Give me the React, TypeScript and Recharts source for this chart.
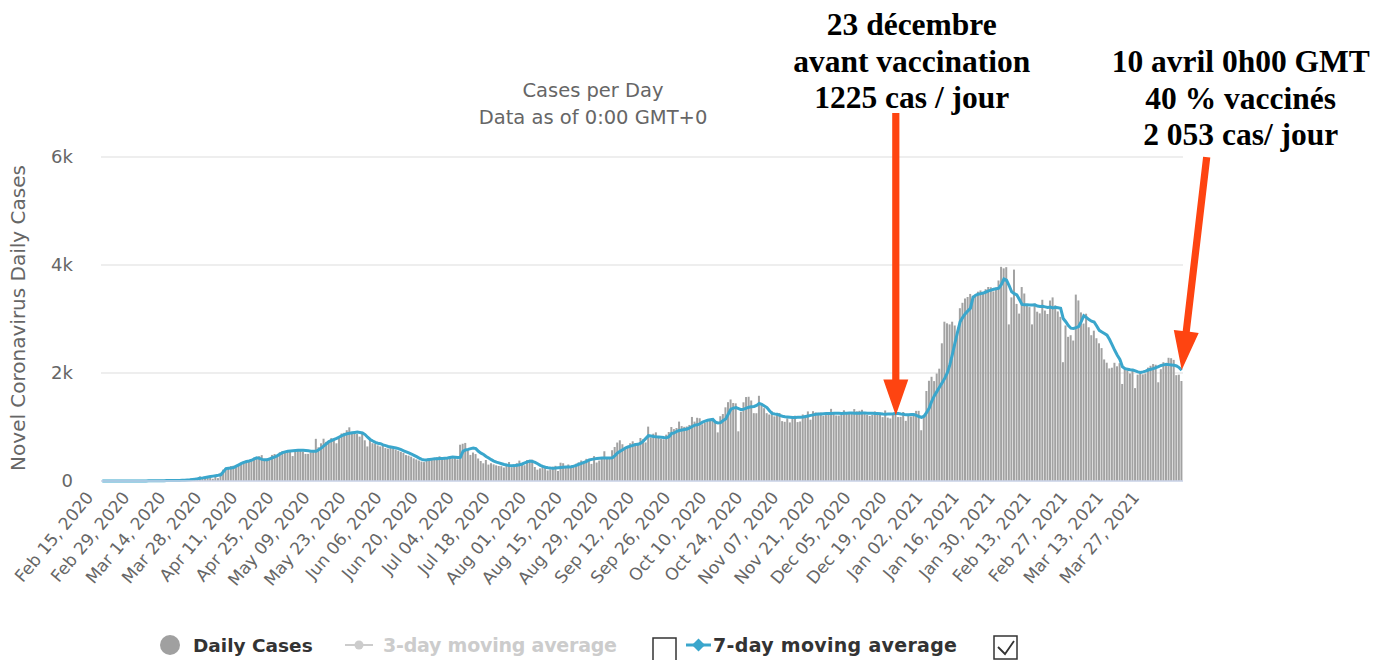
import React from 'react';
import { ComposedChart, Bar, Line, XAxis, YAxis, CartesianGrid, ReferenceDot } from 'recharts';

// Daily new cases, one row per week, starting Saturday Feb 15, 2020
const DAILY_CASES: number[] = [
  0, 0, 0, 0, 0, 0, 0,
  0, 2, 0, 0, 0, 0, 6,
  0, 2, 0, 6, 6, 0, 0,
  15, 0, 0, 15, 14, 11, 6,
  0, 13, 0, 15, 15, 27, 0,
  40, 45, 50, 85, 53, 70, 72,
  63, 41, 102, 53, 150, 210, 240,
  241, 277, 283, 294, 300, 331, 370,
  376, 387, 398, 432, 412, 460, 479,
  398, 412, 430, 483, 500, 480, 532,
  552, 525, 557, 541, 462, 563, 557,
  561, 546, 502, 502, 532, 557, 781,
  624, 698, 783, 725, 747, 794, 781,
  698, 812, 880, 892, 941, 994, 906,
  903, 870, 822, 908, 754, 640, 779,
  700, 690, 660, 640, 680, 610, 600,
  640, 600, 580, 560, 540, 520, 480,
  470, 450, 420, 400, 380, 360, 350,
  375, 387, 400, 422, 440, 458, 402,
  428, 410, 462, 420, 440, 400, 672,
  690, 705, 577, 483, 527, 499, 417,
  370, 328, 389, 304, 329, 308, 290,
  278, 275, 250, 295, 351, 256, 264,
  328, 378, 312, 292, 389, 367, 395,
  259, 210, 234, 293, 274, 195, 216,
  263, 281, 185, 339, 329, 275, 306,
  262, 290, 320, 345, 380, 363, 410,
  402, 317, 461, 342, 378, 424, 551,
  432, 425, 570, 630, 712, 754, 681,
  607, 644, 699, 735, 700, 702, 797,
  775, 714, 1007, 806, 876, 901, 820,
  782, 773, 858, 907, 1000, 961, 982,
  1100, 1017, 1003, 1010, 1038, 1186, 1100,
  1171, 1162, 1051, 1078, 1101, 1139, 1140,
  1096, 900, 1200, 1240, 1364, 1460, 1510,
  1444, 1438, 920, 1281, 1457, 1555, 1560,
  1491, 1256, 1255, 1578, 1404, 1348, 1256,
  1231, 1292, 1197, 1226, 1259, 1109, 1096,
  1161, 1085, 1201, 1209, 1091, 1102, 1232,
  1190, 1289, 1136, 1293, 1269, 1262, 1267,
  1209, 1221, 1270, 1336, 1261, 1214, 1212,
  1235, 1310, 1262, 1258, 1275, 1332, 1289,
  1300, 1319, 1255, 1226, 1206, 1226, 1289,
  1257, 1263, 1183, 1307, 1174, 1158, 1230,
  1241, 1184, 1187, 1278, 1114, 1216, 1196,
  1251, 1299, 1300, 940, 1223, 1667, 1856,
  1930, 1850, 1990, 2080, 2550, 2950, 2920,
  2900, 2950, 2880, 2760, 3200, 3300, 3380,
  3407, 3464, 3432, 3434, 3506, 3529, 3491,
  3552, 3593, 3588, 3511, 3580, 3713, 3966,
  3938, 3960, 2900, 3400, 3915, 3280, 3100,
  3592, 3471, 3270, 3220, 2900, 3284, 3135,
  3104, 3356, 3157, 3093, 3342, 3400, 3251,
  3140, 3040, 2200, 2880, 2670, 2700, 2601,
  3452, 3344, 3122, 2916, 3098, 2847, 2700,
  2784, 2644, 2550, 2461, 2251, 2191, 2085,
  2098, 2189, 2124, 2182, 1797, 2099, 2048,
  1992, 2073, 1720, 1969, 2000, 1975, 1991,
  2100, 2134, 2166, 2153, 1828, 2071, 2200,
  2185, 2282, 2274, 2243, 1960, 1969, 1852,
];

// 7-day moving average, same layout
const AVG_7DAY: number[] = [
  0, 0, 0, 0, 0, 0, 0,
  0, 0, 0, 0, 0, 0, 1,
  1, 1, 1, 2, 3, 3, 3,
  5, 5, 5, 6, 8, 9, 9,
  8, 10, 11, 13, 15, 19, 22,
  28, 35, 42, 52, 58, 66, 74,
  82, 90, 98, 105, 115, 170, 230,
  236, 240, 250, 275, 300, 325, 345,
  360, 370, 385, 410, 430, 420, 400,
  395, 395, 410, 430, 445, 470, 500,
  525, 540, 550, 555, 560, 565, 568,
  570, 568, 565, 560, 553, 550, 552,
  580, 610, 650, 690, 730, 750, 770,
  790, 815, 840, 860, 875, 885, 893,
  900, 905, 898, 890, 860, 810, 770,
  740, 715, 700, 690, 670, 655, 640,
  630, 620, 610, 600, 580, 560, 540,
  520, 500, 475, 450, 425, 400, 390,
  392, 398, 405, 410, 412, 415, 418,
  422, 425, 435, 445, 440, 435, 440,
  550, 575, 585, 600, 612, 600, 550,
  515, 490, 455, 425, 395, 370, 350,
  335, 320, 305, 295, 287, 283, 285,
  292, 300, 315, 335, 355, 370, 362,
  345, 320, 290, 270, 255, 245, 240,
  238, 240, 245, 250, 255, 258, 260,
  265, 275, 290, 310, 325, 345, 365,
  390, 400, 410, 418, 422, 425, 425,
  425, 426, 430, 470, 520, 550, 580,
  610, 630, 645, 660, 675, 680, 700,
  740, 790, 840, 835, 825, 818, 815,
  812, 805, 800, 820, 880, 890, 920,
  935, 945, 955, 962, 985, 1010, 1035,
  1040, 1060, 1090, 1110, 1125, 1135, 1140,
  1090, 1075, 1080, 1120, 1150, 1240, 1330,
  1350, 1360, 1340, 1320, 1330, 1350, 1365,
  1375, 1380, 1400, 1435, 1420, 1390, 1360,
  1300, 1250, 1240, 1235, 1215, 1200, 1190,
  1185, 1180, 1175, 1178, 1182, 1180, 1185,
  1195, 1205, 1215, 1225, 1235, 1240, 1242,
  1245, 1248, 1250, 1252, 1255, 1255, 1253,
  1252, 1254, 1256, 1258, 1257, 1255, 1255,
  1256, 1258, 1257, 1255, 1254, 1255, 1252,
  1250, 1245, 1240, 1238, 1240, 1242, 1245,
  1250, 1248, 1240, 1235, 1225, 1228, 1230,
  1230, 1215, 1195, 1180, 1200, 1270, 1350,
  1480, 1580, 1660, 1740, 1820, 1900, 2000,
  2150, 2350, 2560, 2760, 2950, 3030, 3100,
  3150, 3200, 3400, 3440, 3460, 3470, 3480,
  3500, 3520, 3535, 3550, 3560, 3570, 3640,
  3740, 3720, 3620, 3505, 3470, 3445, 3360,
  3270, 3265, 3262, 3260, 3258, 3262, 3240,
  3230, 3235, 3225, 3215, 3220, 3205, 3215,
  3210, 3200, 3010, 2950, 2880, 2830, 2825,
  2840, 2860, 2950, 3060, 3030, 2990, 2960,
  2945, 2870, 2790, 2760, 2730, 2700, 2620,
  2520, 2420, 2330, 2250, 2115, 2080, 2070,
  2060, 2055, 2040, 2020, 2010, 2020, 2035,
  2055, 2070, 2080, 2100, 2120, 2140, 2150,
  2160, 2155, 2150, 2145, 2130, 2100, 2053,
];

const START_DATE = Date.UTC(2020, 1, 15);
const MONTHS = ['Jan', 'Feb', 'Mar', 'Apr', 'May', 'Jun', 'Jul', 'Aug', 'Sep', 'Oct', 'Nov', 'Dec'];
const Y_TICKS = [0, 2000, 4000, 6000];
const TICK_EVERY_DAYS = 14;

const TITLE = 'Cases per Day';
const SUBTITLE = 'Data as of 0:00 GMT+0';
const Y_TITLE = 'Novel Coronavirus Daily Cases';

const NOTE_LEFT_DATE = 'Dec 19, 2020';
const NOTE_LEFT_LINES = ['23 décembre', 'avant vaccination', '1225 cas / jour'];
const NOTE_RIGHT_LINES = ['10 avril 0h00 GMT', '40 % vaccinés', '2 053 cas/ jour'];

const fmtDate = (i: number) => {
  const d = new Date(START_DATE + i * 86400000);
  return `${MONTHS[d.getUTCMonth()]} ${String(d.getUTCDate()).padStart(2, '0')}, ${d.getUTCFullYear()}`;
};

const DATA = DAILY_CASES.map((v, i) => ({ date: fmtDate(i), cases: v, avg7: AVG_7DAY[i] }));
const LAST = DATA[DATA.length - 1];
const LEFT_POINT = DATA.find((d) => d.date === NOTE_LEFT_DATE)!;

const W = 1374;
const H = 660;
const XAXIS_H = 100;
const FONT = '"DejaVu Sans", sans-serif';
const SERIF = '"Liberation Serif", "DejaVu Serif", serif';
const ARROW = '#fe4411';
const LINE_COLOR = '#3aa6cc';
const BAR_COLOR = '#a2a2a2';

function arrowPath(tx: number, ty: number, px: number, py: number, headLen: number, headHalf: number, shaftHalf: number) {
  const dx = px - tx;
  const dy = py - ty;
  const L = Math.hypot(dx, dy);
  const ux = dx / L, uy = dy / L;
  const nx = -uy, ny = ux;
  const bx = px - ux * headLen, by = py - uy * headLen;
  const pts = [
    [tx + nx * shaftHalf, ty + ny * shaftHalf],
    [bx + nx * shaftHalf, by + ny * shaftHalf],
    [bx + nx * headHalf, by + ny * headHalf],
    [px, py],
    [bx - nx * headHalf, by - ny * headHalf],
    [bx - nx * shaftHalf, by - ny * shaftHalf],
    [tx - nx * shaftHalf, ty - ny * shaftHalf],
  ];
  return 'M' + pts.map((p) => p.map((n) => n.toFixed(1)).join(',')).join('L') + 'Z';
}

const LeftNote = (props: any) => {
  const { cx, cy } = props;
  if (cx == null || cy == null) return null;
  const tx = cx + 16;
  return (
    <g>
      <path d={arrowPath(cx, 113, cx, cy + 2, 36, 12.5, 3.6)} fill={ARROW} />
      {NOTE_LEFT_LINES.map((t, i) => (
        <text key={i} x={tx} y={35 + i * 36.5} textAnchor="middle" fontFamily={SERIF} fontWeight="bold" fontSize={31.5} fill="#000">
          {t}
        </text>
      ))}
    </g>
  );
};

const RightNote = (props: any) => {
  const { cx, cy } = props;
  if (cx == null || cy == null) return null;
  const tx = cx + 59;
  return (
    <g>
      <path d={arrowPath(cx + 25, cy - 213, cx, cy, 39, 12.5, 3.6)} fill={ARROW} />
      {NOTE_RIGHT_LINES.map((t, i) => (
        <text key={i} x={tx} y={72 + i * 36.5} textAnchor="middle" fontFamily={SERIF} fontWeight="bold" fontSize={31.5} fill="#000">
          {t}
        </text>
      ))}
    </g>
  );
};

const XTick = (props: any) => {
  const { x, y, payload } = props;
  return (
    <g transform={`translate(${x - 8},${y + 17})`}>
      <text textAnchor="end" transform="rotate(-50)" fill="#666" fontSize={17} fontFamily={FONT}>
        {payload.value}
      </text>
    </g>
  );
};

const YTick = (props: any) => {
  const { x, y, payload } = props;
  const v = payload.value as number;
  return (
    <text x={x} y={y + 6} textAnchor="end" fill="#666" fontSize={18} fontFamily={FONT}>
      {v === 0 ? '0' : `${v / 1000}k`}
    </text>
  );
};

export default function App() {
  return (
    <div style={{ position: 'absolute', left: 0, top: 0, width: W, height: H, background: '#fff' }}>
      <ComposedChart
        width={W}
        height={H}
        data={DATA}
        margin={{ top: 157, right: 191, left: 0, bottom: H - 481 - XAXIS_H }}
        barCategoryGap={0}
        barGap={0}
      >
        <CartesianGrid vertical={false} stroke="#e8e8e8" strokeWidth={1.5} />
        <XAxis
          dataKey="date"
          height={XAXIS_H}
          interval={TICK_EVERY_DAYS - 1}
          tickLine={false}
          tickSize={0}
          tickMargin={0}
          axisLine={{ stroke: '#ccd6eb', strokeWidth: 1.5 }}
          tick={<XTick />}
        />
        <YAxis
          width={101}
          domain={[0, 6000]}
          ticks={Y_TICKS}
          axisLine={false}
          tickLine={false}
          tickSize={0}
          tickMargin={28}
          tick={<YTick />}
        />
        <Bar dataKey="cases" fill={BAR_COLOR} barSize={2} isAnimationActive={false} />
        <Line
          dataKey="avg7"
          type="linear"
          stroke={LINE_COLOR}
          strokeWidth={3}
          dot={false}
          isAnimationActive={false}
        />
        <ReferenceDot x={LEFT_POINT.date} y={LEFT_POINT.avg7} shape={<LeftNote />} ifOverflow="visible" />
        <ReferenceDot x={LAST.date} y={LAST.avg7} shape={<RightNote />} ifOverflow="visible" />
      </ComposedChart>
      <svg width={W} height={H} style={{ position: 'absolute', left: 0, top: 0, pointerEvents: 'none' }}>
        <text x={593} y={97} textAnchor="middle" fontFamily={FONT} fontSize={19.5} fill="#666">{TITLE}</text>
        <text x={593} y={124} textAnchor="middle" fontFamily={FONT} fontSize={19.5} fill="#666">{SUBTITLE}</text>
        <text
          x={0}
          y={0}
          transform="translate(25,318) rotate(-90)"
          textAnchor="middle"
          fontFamily={FONT}
          fontSize={20}
          fill="#666"
        >
          {Y_TITLE}
        </text>
        <circle cx={170} cy={645} r={10} fill="#a0a0a0" />
        <text x={193} y={652} fontFamily={FONT} fontWeight="bold" fontSize={18.5} fill="#333">Daily Cases</text>
        <line x1={345} y1={645} x2={373} y2={645} stroke="#ccc" strokeWidth={2} />
        <circle cx={359} cy={645} r={4.5} fill="#ccc" />
        <text x={383} y={652} fontFamily={FONT} fontWeight="bold" fontSize={19} fill="#ccc" textLength={234}>3-day moving average</text>
        <rect x={653} y={638} width={23} height={23} fill="none" stroke="#333" strokeWidth={1.5} />
        <line x1={686} y1={645} x2={711} y2={645} stroke={LINE_COLOR} strokeWidth={3} />
        <path d="M698.5,638.5 L705,645 L698.5,651.5 L692,645 Z" fill={LINE_COLOR} />
        <text x={713} y={652} fontFamily={FONT} fontWeight="bold" fontSize={19} fill="#333" textLength={244}>7-day moving average</text>
        <rect x={994} y={636} width={23} height={23} fill="none" stroke="#333" strokeWidth={1.5} />
        <path d="M998,647 L1005,654 L1014,641" fill="none" stroke="#333" strokeWidth={1.8} />
      </svg>
    </div>
  );
}
